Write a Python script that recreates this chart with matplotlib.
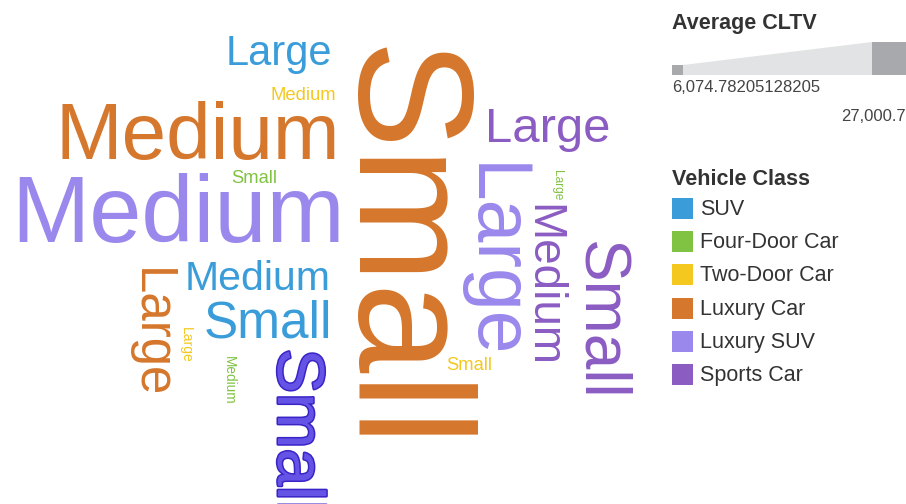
import matplotlib
matplotlib.use("Agg")
import matplotlib.pyplot as plt
from matplotlib.patches import Rectangle, Polygon
import matplotlib.patheffects as pe

plt.rcParams['font.family'] = ['Liberation Sans', 'DejaVu Sans']

# ---- data ----
classes = ['SUV', 'Four-Door Car', 'Two-Door Car', 'Luxury Car', 'Luxury SUV', 'Sports Car']
class_colors = ['#3a9dda', '#80c342', '#f4c81e', '#d5772c', '#9b88ec', '#8b5cc2']

words = ['Large', 'Medium', 'Small',
         'Small', 'Large', 'Medium',
         'Medium', 'Large', 'Small',
         'Medium', 'Small', 'Large',
         'Medium', 'Large', 'Small',
         'Large', 'Medium', 'Small']
word_class = ['SUV', 'SUV', 'SUV',
              'Four-Door Car', 'Four-Door Car', 'Four-Door Car',
              'Two-Door Car', 'Two-Door Car', 'Two-Door Car',
              'Luxury Car', 'Luxury Car', 'Luxury Car',
              'Luxury SUV', 'Luxury SUV', 'Luxury SUV',
              'Sports Car', 'Sports Car', 'Sports Car']
avg_cltv = [10206, 10110, 11558,
            6963, 6074.78205128205, 6306,
            6982, 6345, 6963,
            15534, 27000.7, 11500,
            17446, 15110, 13681,
            11229, 10785, 13295]
highlighted = ('Luxury SUV', 'Small')

# ---- layout (word-cloud placement, pixels; centre x / baseline, rotation) ----
layout = [(279, 65, 0), (257.5, 290, 0), (268, 338, 0),
          (254.5, 183, 0), (554.5, 185, -90), (225, 380, -90),
          (303, 100, 0), (182, 345, -90), (469.5, 370, 0),
          (198, 159, 0), (352, 249, -90), (136.5, 333.5, -90),
          (178, 242, 0), (472, 261, -90), (278, 432, -90),
          (547.5, 142, 0), (530, 285, -90), (583, 320, -90)]

W, H = 906, 504
fig = plt.figure(figsize=(W / 100, H / 100), dpi=100)
ax = fig.add_axes([0, 0, 1, 1])
ax.set_xlim(0, W)
ax.set_ylim(H, 0)
ax.axis('off')

vmin, vmax = min(avg_cltv), max(avg_cltv)
fs_min, fs_max = 8.6, 117

def size_of(v):
    return fs_min + (v - vmin) / (vmax - vmin) * (fs_max - fs_min)

color_map = dict(zip(classes, class_colors))
for w, c, v, (x, y, rot) in zip(words, word_class, avg_cltv, layout):
    kw = dict(fontsize=size_of(v), color=color_map[c], ha='center', va='baseline',
              rotation=rot, rotation_mode='anchor')
    if (c, w) == highlighted:
        kw['color'] = '#6553e6'
        kw['path_effects'] = [pe.Stroke(linewidth=2.2, foreground='#3a24c6'), pe.Normal()]
    ax.text(x, y, w, **kw)

# ---- size legend ----
ax.text(672, 29, 'Average CLTV', fontsize=15.5, fontweight='bold', color='#333333',
        ha='left', va='baseline')
ax.add_patch(Polygon([(683, 75), (683, 65), (872, 42), (872, 75)], closed=True,
                     facecolor='#e2e3e4', edgecolor='none'))
ax.add_patch(Rectangle((672, 65), 11, 10, facecolor='#a7a9ac', edgecolor='none'))
ax.add_patch(Rectangle((872, 42), 36, 33, facecolor='#a7a9ac', edgecolor='none'))
ax.text(672, 92, format(vmin, ','), fontsize=12, color='#444444', ha='left', va='baseline')
ax.text(906, 121, format(vmax, ','), fontsize=12, color='#444444', ha='right', va='baseline')

# ---- color legend ----
ax.text(672, 185, 'Vehicle Class', fontsize=15.5, fontweight='bold', color='#333333',
        ha='left', va='baseline')
for i, (c, col) in enumerate(zip(classes, class_colors)):
    yc = 208 + i * 33.2
    ax.add_patch(Rectangle((672, yc - 10), 21, 21, facecolor=col, edgecolor='none'))
    ax.text(700, yc + 7, c, fontsize=15.5, color='#333333', ha='left', va='baseline')

fig.savefig('out.png', dpi=100, facecolor='white')
